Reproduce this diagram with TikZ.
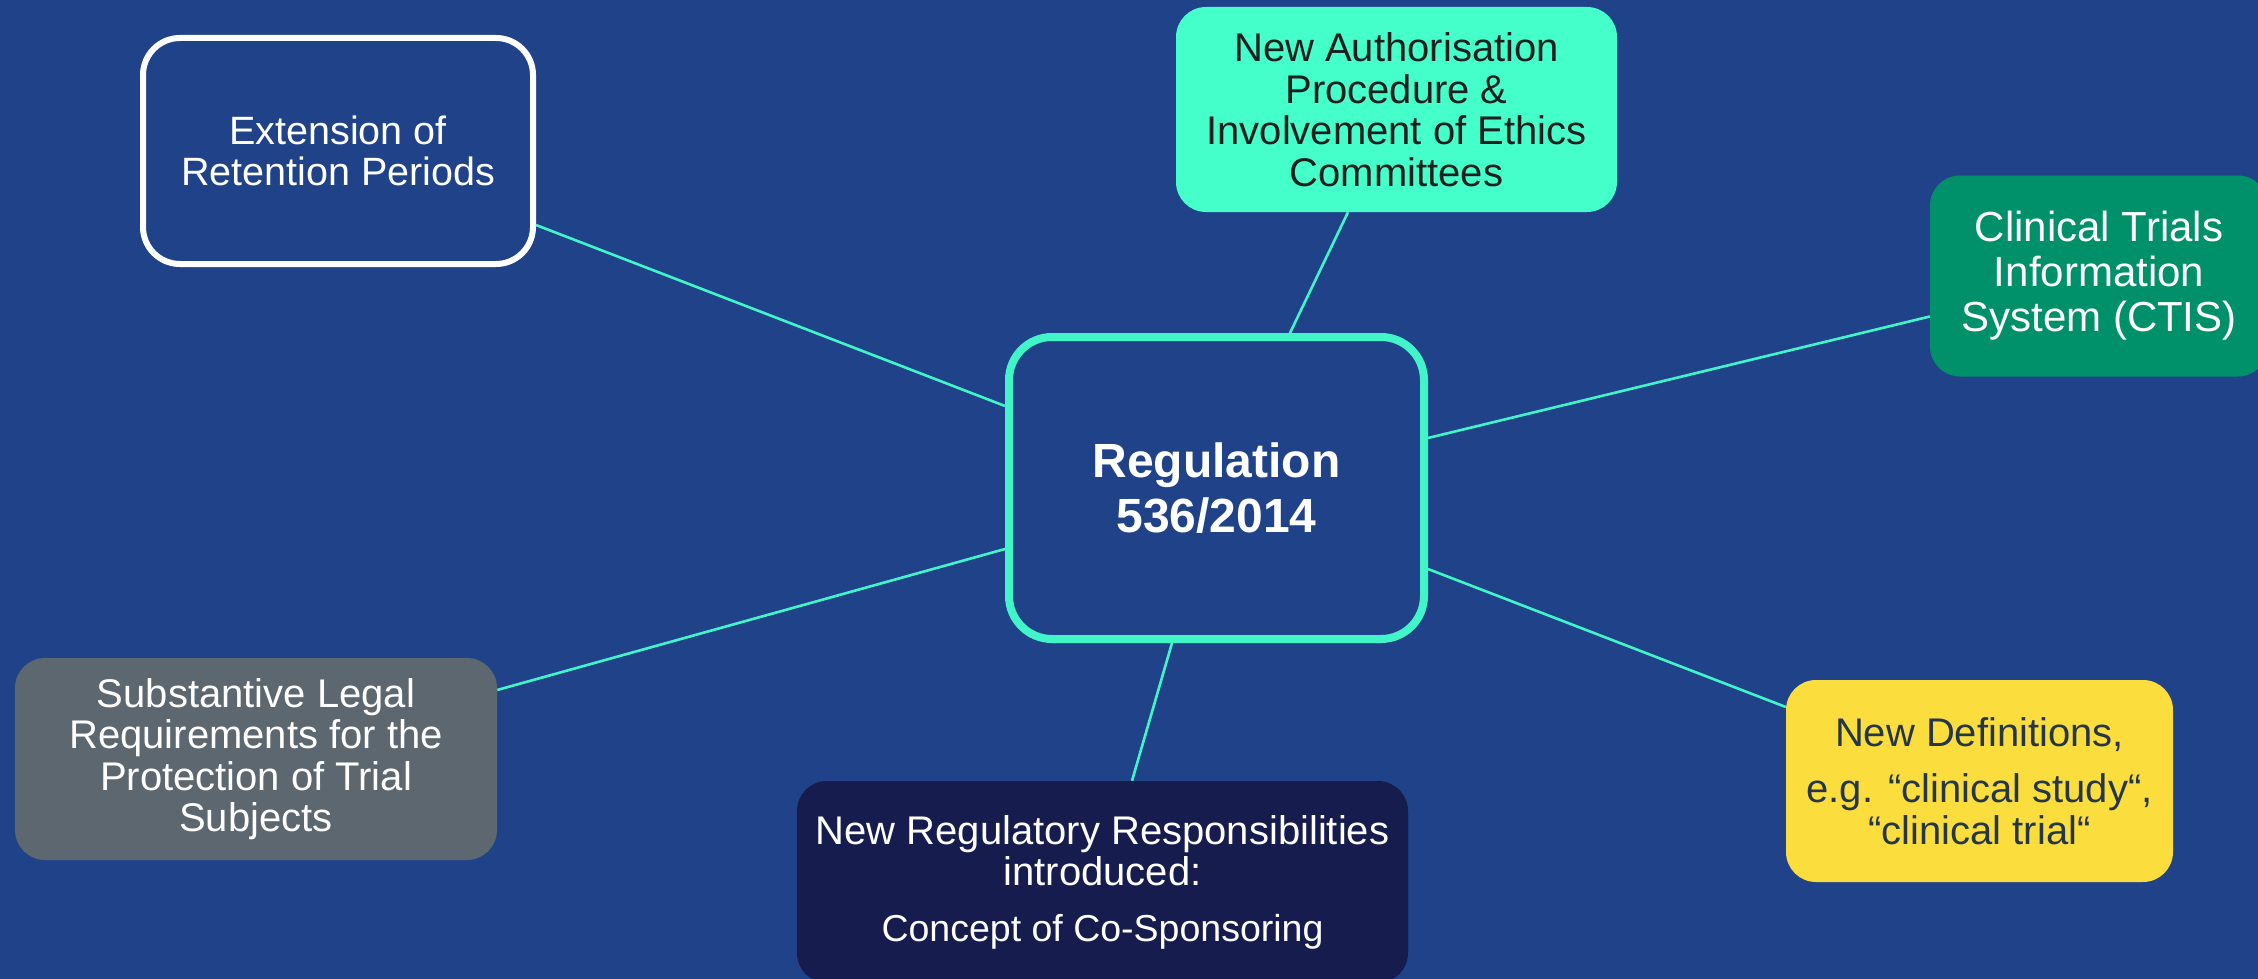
\documentclass[tikz,border=0pt]{standalone}
\usepackage{fontspec}
\setmainfont{Liberation Sans}
\pgfdeclarelayer{background}
\pgfsetlayers{background,main}

\definecolor{bgblue}{HTML}{1F4289}
\definecolor{teal}{HTML}{42F5C8}
\definecolor{aqua}{HTML}{45FFCA}
\definecolor{ctisgreen}{HTML}{00916A}
\definecolor{sun}{HTML}{FBDD3E}
\definecolor{slate}{HTML}{253746}
\definecolor{navy}{HTML}{161C4D}
\definecolor{steel}{HTML}{5C6770}

\tikzset{
  topic/.style={rectangle, rounded corners=30pt, inner sep=0pt, align=center,
    font=\fontsize{40}{41.5}\selectfont},
  link/.style={teal, line width=2.6pt},
}

\begin{document}
\begin{tikzpicture}[x=1pt,y=-1pt]
\useasboundingbox (0,0) rectangle (2258,979);
\clip (0,0) rectangle (2258,979);

% central topic
\node[rectangle, rounded corners=43pt, draw=teal, line width=8pt, fill=bgblue,
      minimum width=415pt, minimum height=302pt, inner sep=0pt, align=center,
      text=white, font=\fontsize{48}{55}\selectfont\bfseries]
  (reg) at (1216.5,488) {Regulation\\536/2014};

% surrounding topics
\node[topic, rounded corners=37pt, draw=white, line width=6pt, fill=bgblue, text=white,
      font=\fontsize{39.5}{41.5}\selectfont,
      minimum width=390pt, minimum height=226pt]
  (ret) at (338,151) {Extension of\\Retention Periods};

\node[topic, fill=aqua, text=black!88,
      minimum width=441pt, minimum height=205pt]
  (auth) at (1396.5,109.5) {New Authorisation\\Procedure \&\\Involvement of Ethics\\Committees};

\node[topic, fill=ctisgreen, text=white, font=\fontsize{42}{45}\selectfont,
      minimum width=338pt, minimum height=201pt]
  (ctis) at (2099,276) {Clinical Trials\\Information\\System (CTIS)};

\node[topic, fill=sun, text=slate,
      minimum width=387pt, minimum height=202pt]
  (defs) at (1979.5,781) {New Definitions,\\[14.5pt]e.g. “clinical study“,\\“clinical trial“};

\node[topic, fill=navy, text=white,
      minimum width=611pt, minimum height=202pt]
  (resp) at (1102.5,882) {New Regulatory Responsibilities\\introduced:\\[14pt]{\fontsize{37.5}{41.5}\selectfont Concept of Co-Sponsoring}};

\node[topic, fill=steel, text=white,
      minimum width=482pt, minimum height=202pt]
  (legal) at (256,759) {Substantive Legal\\Requirements for the\\Protection of Trial\\Subjects};

\begin{pgfonlayer}{background}
  \fill[bgblue] (0,0) rectangle (2258,979);
  \draw[link] ([yshift=-74pt]ret.east)   -- ([yshift=82pt]reg.west);
  \draw[link] ([xshift=-48.5pt]auth.south) -- ([xshift=73.5pt]reg.north);
  \draw[link] ([yshift=-40.5pt]ctis.west) -- ([yshift=50pt]reg.east);
  \draw[link] ([yshift=74pt]defs.west)   -- ([yshift=-81pt]reg.east);
  \draw[link] ([yshift=69pt]legal.east)  -- ([yshift=-61pt]reg.west);
  \draw[link] ([xshift=29.5pt]resp.north) -- ([xshift=-44.5pt]reg.south);
\end{pgfonlayer}
\end{tikzpicture}
\end{document}
